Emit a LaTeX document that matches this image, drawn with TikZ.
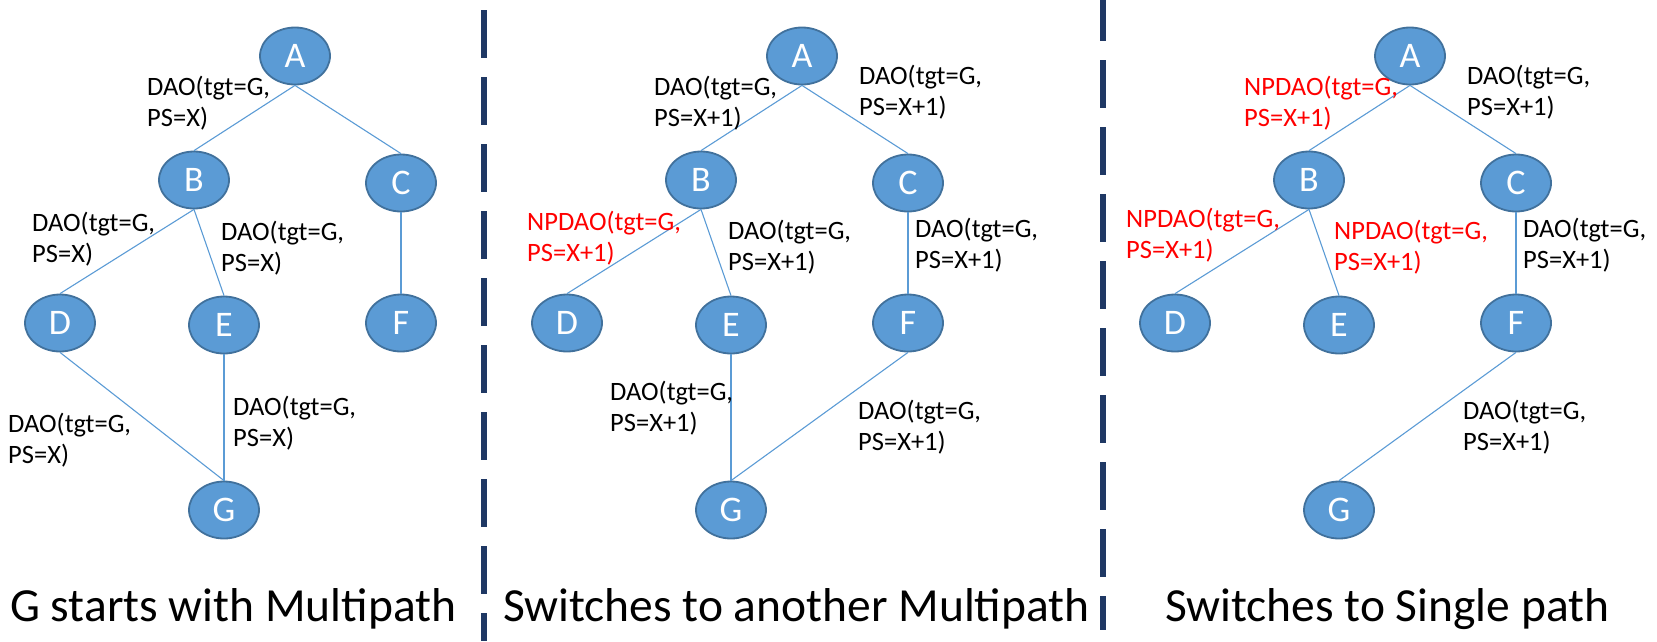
\documentclass[tikz,border=0pt]{standalone}
\usepackage{fontspec}
\setmainfont{Carlito}
\usetikzlibrary{shapes.geometric}
\definecolor{nodefill}{RGB}{91,155,213}
\definecolor{nodeborder}{RGB}{65,113,156}
\definecolor{edgec}{RGB}{91,155,213}
\definecolor{navy}{RGB}{31,56,100}
\definecolor{npred}{RGB}{255,0,0}
\tikzset{
  nd/.style={ellipse, draw=nodeborder, line width=1.8pt, fill=nodefill,
    minimum width=70pt, minimum height=57pt, inner sep=0pt, text=white,
    font=\fontsize{36}{42}\selectfont},
  lbl/.style={anchor=west, align=left, inner sep=0pt, font=\fontsize{26.5}{31}\selectfont},
  redlbl/.style={lbl, text=npred},
  ttl/.style={anchor=base west, inner sep=0pt, font=\fontsize{47.5}{56}\selectfont},
  edge/.style={draw=edgec, line width=1.1pt},
  sep/.style={draw=navy, line width=6pt, dash pattern=on 48pt off 19pt}
}
\begin{document}
\begin{tikzpicture}[x=1pt,y=-1pt]
\useasboundingbox (0,0) rectangle (1657,641);
% ---------- panel 1 ----------
\node[nd] (A1) at (295,56) {A};
\node[nd] (B1) at (194,180) {B};
\node[nd] (C1) at (401,183) {C};
\node[nd] (D1) at (60,323) {D};
\node[nd] (E1) at (224,325) {E};
\node[nd] (F1) at (401,323) {F};
\node[nd] (G1) at (224,510) {G};
\draw[edge] (A1.south) -- (B1.north);
\draw[edge] (A1.south) -- (C1.north);
\draw[edge] (B1.south) -- (D1.north);
\draw[edge] (B1.south) -- (E1.north);
\draw[edge] (C1.south) -- (F1.north);
\draw[edge] (D1.south) -- (G1.north);
\draw[edge] (E1.south) -- (G1.north);
\node[lbl] (l1ab) at (147,103) {DAO(tgt=G,\\PS=X)};
\node[lbl] (l1bd) at (32,239) {DAO(tgt=G,\\PS=X)};
\node[lbl] (l1be) at (221,248) {DAO(tgt=G,\\PS=X)};
\node[lbl] (l1dg) at (8,440) {DAO(tgt=G,\\PS=X)};
\node[lbl] (l1eg) at (233,423) {DAO(tgt=G,\\PS=X)};
\node[ttl] (t1) at (10,621) {G starts with Multipath};
% ---------- panel 2 ----------
\node[nd] (A2) at (802,56) {A};
\node[nd] (B2) at (701,180) {B};
\node[nd] (C2) at (908,183) {C};
\node[nd] (D2) at (567,323) {D};
\node[nd] (E2) at (731,325) {E};
\node[nd] (F2) at (908,323) {F};
\node[nd] (G2) at (731,510) {G};
\draw[edge] (A2.south) -- (B2.north);
\draw[edge] (A2.south) -- (C2.north);
\draw[edge] (B2.south) -- (D2.north);
\draw[edge] (B2.south) -- (E2.north);
\draw[edge] (C2.south) -- (F2.north);
\draw[edge] (E2.south) -- (G2.north);
\draw[edge] (F2.south) -- (G2.north);
\node[lbl] (l2ab) at (654,103) {DAO(tgt=G,\\PS=X+1)};
\node[lbl] (l2ac) at (859,92) {DAO(tgt=G,\\PS=X+1)};
\node[redlbl] (l2bd) at (527,238) {NPDAO(tgt=G,\\PS=X+1)};
\node[lbl] (l2be) at (728,247) {DAO(tgt=G,\\PS=X+1)};
\node[lbl] (l2cf) at (915,245) {DAO(tgt=G,\\PS=X+1)};
\node[lbl] (l2eg) at (610,408) {DAO(tgt=G,\\PS=X+1)};
\node[lbl] (l2fg) at (858,427) {DAO(tgt=G,\\PS=X+1)};
\node[ttl] (t2) at (503,621) {Switches to another Multipath};
% ---------- panel 3 ----------
\node[nd] (A3) at (1410,56) {A};
\node[nd] (B3) at (1309,180) {B};
\node[nd] (C3) at (1516,183) {C};
\node[nd] (D3) at (1175,323) {D};
\node[nd] (E3) at (1339,325) {E};
\node[nd] (F3) at (1516,323) {F};
\node[nd] (G3) at (1339,510) {G};
\draw[edge] (A3.south) -- (B3.north);
\draw[edge] (A3.south) -- (C3.north);
\draw[edge] (B3.south) -- (D3.north);
\draw[edge] (B3.south) -- (E3.north);
\draw[edge] (C3.south) -- (F3.north);
\draw[edge] (F3.south) -- (G3.north);
\node[redlbl] (l3ab) at (1244,103) {NPDAO(tgt=G,\\PS=X+1)};
\node[lbl] (l3ac) at (1467,92) {DAO(tgt=G,\\PS=X+1)};
\node[redlbl] (l3bd) at (1126,235) {NPDAO(tgt=G,\\PS=X+1)};
\node[redlbl] (l3be) at (1334,247) {NPDAO(tgt=G,\\PS=X+1)};
\node[lbl] (l3cf) at (1523,245) {DAO(tgt=G,\\PS=X+1)};
\node[lbl] (l3fg) at (1463,427) {DAO(tgt=G,\\PS=X+1)};
\node[ttl] (t3) at (1165,621) {Switches to Single path};
% ---------- separators ----------
\coordinate (s1a) at (484,10);
\coordinate (s1b) at (484,641);
\coordinate (s2a) at (1103,-7);
\coordinate (s2b) at (1103,630);
\draw[sep] (s1a) -- (s1b);
\draw[sep] (s2a) -- (s2b);
\end{tikzpicture}
\end{document}
